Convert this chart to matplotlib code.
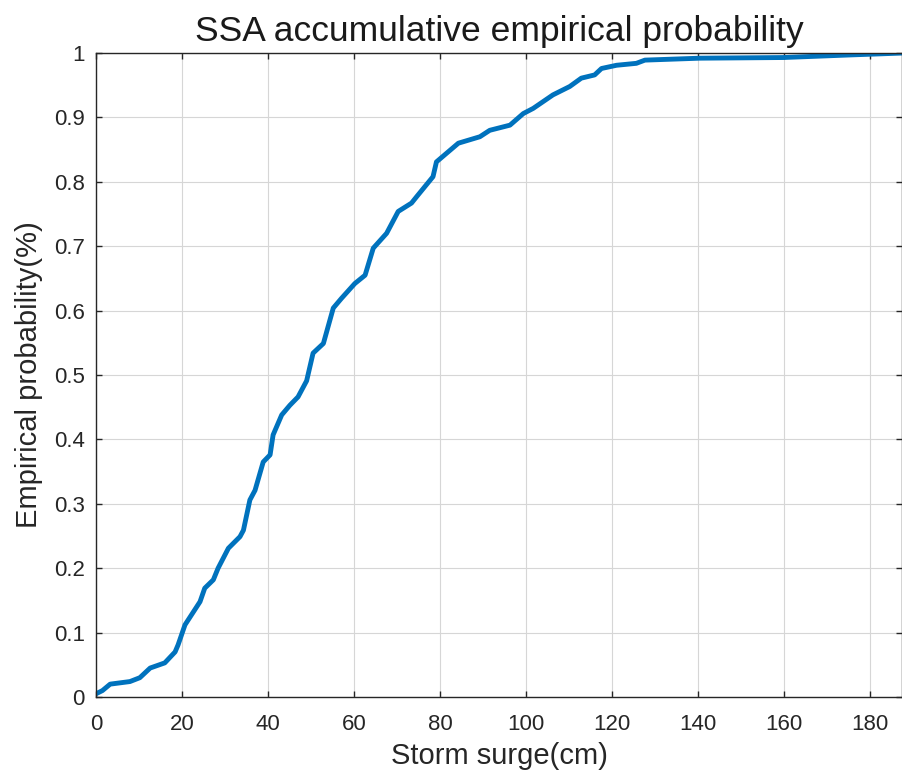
import matplotlib
matplotlib.use("Agg")
import matplotlib.pyplot as plt

plt.rcParams["font.family"] = ["Liberation Sans", "DejaVu Sans"]

# Storm surge (cm) vs cumulative empirical probability
surge_cm = [0.0, 1.5, 3.3, 7.9, 10.2, 12.6, 16.0, 18.4, 19.1, 20.7, 24.2, 25.3,
            27.3, 28.4, 30.8, 33.5, 34.3, 35.8, 37.0, 38.9, 40.5, 41.2, 43.2,
            45.1, 47.0, 49.0, 50.5, 52.9, 55.2, 57.1, 60.2, 62.6, 64.5, 67.6,
            70.3, 73.4, 74.6, 78.4, 79.2, 84.3, 89.3, 91.6, 96.3, 99.4, 101.7,
            106.3, 110.2, 112.9, 116.0, 117.6, 121.1, 125.7, 127.7, 140.5,
            159.8, 175.3, 187.7]
prob = [0.005, 0.010, 0.020, 0.024, 0.030, 0.045, 0.053, 0.070, 0.081, 0.112,
        0.148, 0.169, 0.182, 0.200, 0.231, 0.249, 0.259, 0.306, 0.321, 0.365,
        0.376, 0.407, 0.438, 0.453, 0.466, 0.491, 0.534, 0.549, 0.604, 0.619,
        0.642, 0.655, 0.697, 0.720, 0.754, 0.767, 0.777, 0.808, 0.831, 0.860,
        0.870, 0.880, 0.888, 0.906, 0.914, 0.935, 0.948, 0.961, 0.966, 0.976,
        0.981, 0.984, 0.989, 0.992, 0.993, 0.997, 1.000]

x_ticks = [0, 20, 40, 60, 80, 100, 120, 140, 160, 180]
y_ticks = [0, 0.1, 0.2, 0.3, 0.4, 0.5, 0.6, 0.7, 0.8, 0.9, 1]
y_tick_labels = ["0", "0.1", "0.2", "0.3", "0.4", "0.5", "0.6", "0.7", "0.8", "0.9", "1"]

fig = plt.figure(figsize=(9.03, 7.73), dpi=100)
ax = fig.add_axes([0.1063, 0.0983, 0.8926, 0.8331])

ax.plot(surge_cm, prob, color="#0072BD", linewidth=3.5,
        solid_joinstyle="round", solid_capstyle="round")

ax.set_xlim(0, 187.5)
ax.set_ylim(0, 1)
ax.set_xticks(x_ticks)
ax.set_yticks(y_ticks)
ax.set_yticklabels(y_tick_labels)
ax.grid(True, color="#d6d6d6", linewidth=0.8)
ax.set_axisbelow(True)
ax.tick_params(direction="in", top=True, right=True, length=4.5, width=1.0,
               labelsize=16, colors="#262626")
ax.tick_params(axis="x", pad=12)
ax.tick_params(axis="y", pad=8)
for s in ax.spines.values():
    s.set_color("#262626")
    s.set_linewidth(1.0)

ax.set_title("SSA accumulative empirical probability", fontsize=25.5,
             color="#1a1a1a", pad=9)
ax.set_xlabel("Storm surge(cm)", fontsize=21, color="#262626", labelpad=5)
ax.set_ylabel("Empirical probability(%)", fontsize=21, color="#262626", labelpad=8)

fig.savefig("out.png", dpi=100)
